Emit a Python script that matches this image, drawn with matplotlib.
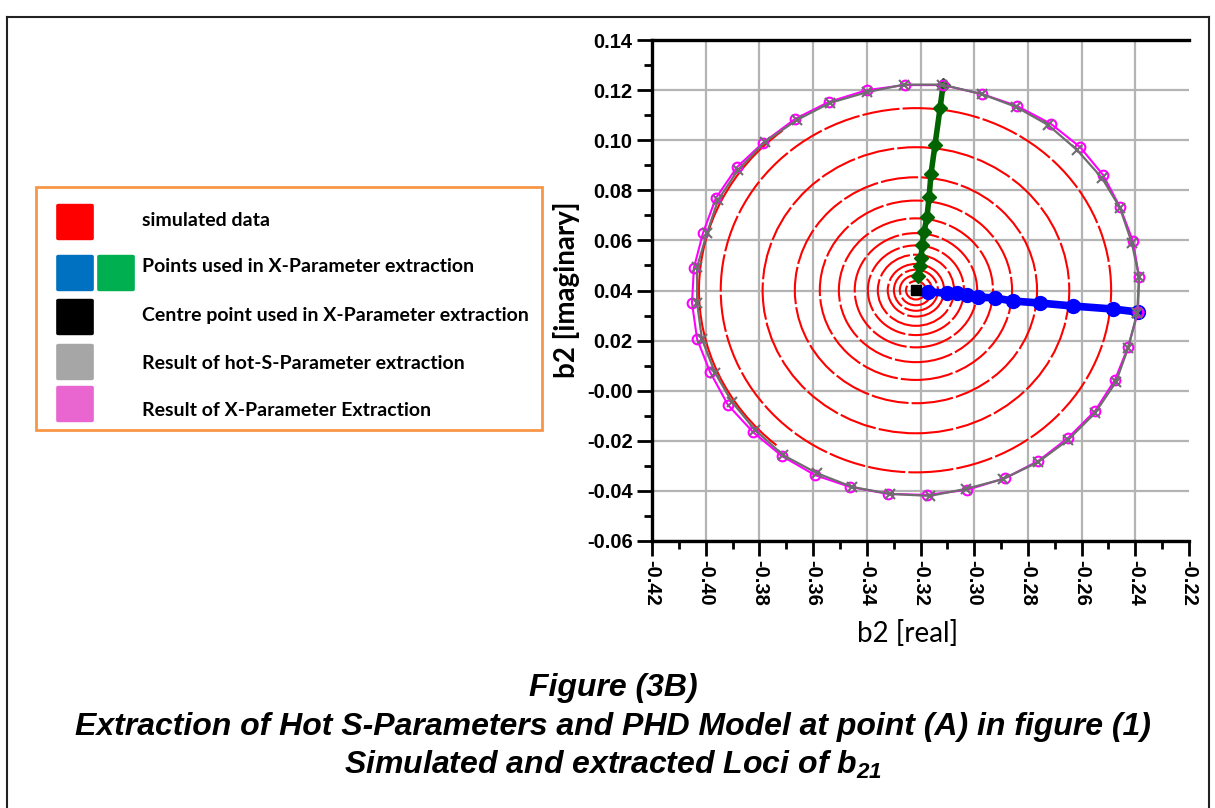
import matplotlib
matplotlib.use("Agg")
import matplotlib.pyplot as plt
from matplotlib.patches import Circle, Arc, FancyBboxPatch, Rectangle
from matplotlib.ticker import FixedLocator, MultipleLocator
from matplotlib.lines import Line2D

plt.rcParams['mathtext.fontset'] = 'custom'
plt.rcParams['mathtext.rm'] = 'Liberation Sans:bold:italic'
plt.rcParams['mathtext.it'] = 'Liberation Sans:bold:italic'
plt.rcParams['mathtext.bf'] = 'Liberation Sans:bold:italic'

# ---------------- data ----------------
centre_x = -0.3217
centre_y = 0.0401

# radii of the simulated (red) loci around the centre point
contour_radii = [0.0037, 0.0060, 0.0082, 0.0105, 0.0142, 0.0179, 0.0228,
                 0.0287, 0.0358, 0.0451, 0.0571, 0.0727]
outer_arc_radius = 0.0808
outer_arc_span = (128, 230)

# blue points used in X-parameter extraction
blue_x = [-0.3172, -0.3101, -0.3064, -0.3027, -0.2986, -0.2922, -0.2856,
          -0.2755, -0.2632, -0.2483, -0.2390]
blue_y = [0.0394, 0.0390, 0.0390, 0.0382, 0.0374, 0.0370, 0.0358,
          0.0350, 0.0338, 0.0326, 0.0314]

# green points used in X-parameter extraction
green_x = [-0.3116, -0.3127, -0.3146, -0.3161, -0.3168, -0.3176, -0.3187,
           -0.3194, -0.3198, -0.3202, -0.3209]
green_y = [0.1220, 0.1129, 0.0981, 0.0865, 0.0773, 0.0693, 0.0633,
           0.0582, 0.0530, 0.0498, 0.0458]

# result of X-parameter extraction (magenta)
xpar_x = [-0.2390, -0.2386, -0.2409, -0.2457, -0.2520, -0.2606, -0.2714,
          -0.2841, -0.2971, -0.3116, -0.3258, -0.3399, -0.3541, -0.3667,
          -0.3787, -0.3883, -0.3962, -0.4010, -0.4044, -0.4051, -0.4032,
          -0.3984, -0.3917, -0.3824, -0.3716, -0.3593, -0.3463, -0.3321,
          -0.3176, -0.3027, -0.2885, -0.2762, -0.2651, -0.2550, -0.2476,
          -0.2427, -0.2390]
xpar_y = [0.0314, 0.0454, 0.0598, 0.0733, 0.0861, 0.0973, 0.1065,
          0.1137, 0.1184, 0.1220, 0.1220, 0.1200, 0.1153, 0.1085,
          0.0989, 0.0893, 0.0769, 0.0630, 0.0490, 0.0350, 0.0206,
          0.0075, -0.0057, -0.0165, -0.0261, -0.0337, -0.0384, -0.0412,
          -0.0416, -0.0396, -0.0349, -0.0281, -0.0189, -0.0081, 0.0043,
          0.0174, 0.0314]

# result of hot-S-parameter extraction (grey)
hots_x = [-0.2393, -0.2386, -0.2413, -0.2457, -0.2524, -0.2617, -0.2725,
          -0.2844, -0.2971, -0.3120, -0.3262, -0.3399, -0.3537, -0.3660,
          -0.3780, -0.3880, -0.3954, -0.3995, -0.4032, -0.4032, -0.4014,
          -0.3965, -0.3902, -0.3816, -0.3712, -0.3586, -0.3455, -0.3314,
          -0.3165, -0.3031, -0.2893, -0.2762, -0.2651, -0.2550, -0.2472,
          -0.2427, -0.2393]
hots_y = [0.0310, 0.0454, 0.0590, 0.0730, 0.0849, 0.0961, 0.1061,
          0.1133, 0.1184, 0.1222, 0.1222, 0.1192, 0.1149, 0.1081,
          0.0993, 0.0881, 0.0761, 0.0630, 0.0494, 0.0350, 0.0206,
          0.0071, -0.0045, -0.0157, -0.0257, -0.0329, -0.0384, -0.0412,
          -0.0420, -0.0392, -0.0353, -0.0285, -0.0197, -0.0089, 0.0035,
          0.0170, 0.0310]

x_ticks = [-0.42, -0.40, -0.38, -0.36, -0.34, -0.32, -0.30, -0.28, -0.26, -0.24, -0.22]
x_tick_labels = ["-0.42", "-0.40", "-0.38", "-0.36", "-0.34", "-0.32",
                 "-0.30", "-0.28", "-0.26", "-0.24", "-0.22"]
y_ticks = [0.14, 0.12, 0.10, 0.08, 0.06, 0.04, 0.02, 0.00, -0.02, -0.04, -0.06]
y_tick_labels = ["0.14", "0.12", "0.10", "0.08", "0.06", "0.04", "0.02",
                 "-0.00", "-0.02", "-0.04", "-0.06"]

legend_labels = ["simulated data",
                 "Points used in X-Parameter extraction",
                 "Centre point used in X-Parameter extraction",
                 "Result of hot-S-Parameter extraction",
                 "Result of X-Parameter Extraction"]
legend_colors = [["#FF0000"], ["#0070C0", "#00B050"], ["#000000"],
                 ["#A6A6A6"], ["#E966D0"]]

title_lines = ["Figure (3B)",
               "Extraction of Hot S-Parameters and PHD Model at point (A) in figure (1)",
               "Simulated and extracted Loci of b$_{21}$"]

# ---------------- figure ----------------
W, H = 1215, 808
fig = plt.figure(figsize=(W / 100, H / 100), dpi=100)
fig.patch.set_facecolor("white")

def fx(px):
    return px / W

def fy(py):
    return 1 - py / H

ax = fig.add_axes([fx(652), fy(541), (1189 - 652) / W, (541 - 40) / H])
ax.set_xlim(-0.42, -0.22)
ax.set_ylim(-0.06, 0.14)

# red simulated loci
for r in contour_radii:
    c = Circle((centre_x, centre_y), r, fill=False, edgecolor="#FF0000",
               lw=1.5, linestyle=(0, (18, 1.5)), zorder=2)
    ax.add_patch(c)
ax.add_patch(Arc((centre_x, centre_y), 2 * outer_arc_radius, 2 * outer_arc_radius,
                 theta1=outer_arc_span[0], theta2=outer_arc_span[1],
                 edgecolor="#FF0000", lw=1.5, zorder=2))

# green and blue extraction points
ax.plot(green_x, green_y, color="#006400", lw=4, marker="D", markersize=7.5,
        zorder=4)
ax.plot(blue_x, blue_y, color="#0000FF", lw=5.5, marker="o", markersize=10,
        zorder=4)
ax.plot([centre_x], [centre_y], color="black", marker="s", markersize=7,
        linestyle="none", zorder=5)

# extraction results
ax.plot(xpar_x, xpar_y, color="#FF00FF", lw=1.5, marker="o", markersize=7,
        markerfacecolor="none", markeredgewidth=1.5, zorder=6)
ax.plot(hots_x, hots_y, color="#6E6E6E", lw=1.6, marker="x", markersize=6.5,
        markeredgewidth=1.5, zorder=7)

# axes styling
ax.xaxis.set_major_locator(FixedLocator(x_ticks))
ax.set_xticklabels(x_tick_labels, rotation=-90, fontsize=14.5,
                   fontweight="bold", family="Liberation Sans")
ax.xaxis.set_minor_locator(MultipleLocator(0.01))
ax.yaxis.set_major_locator(FixedLocator(y_ticks))
ax.set_yticklabels(y_tick_labels, fontsize=14.5, fontweight="bold",
                   family="Liberation Sans")
ax.yaxis.set_minor_locator(MultipleLocator(0.01))

ax.tick_params(axis="both", which="major", direction="out", length=11,
               width=2, color="black", pad=3)
ax.tick_params(axis="both", which="minor", direction="out", length=6,
               width=2, color="black")

for s in ["left", "bottom", "top"]:
    ax.spines[s].set_linewidth(2.4)
    ax.spines[s].set_color("black")
ax.spines["right"].set_visible(False)

ax.grid(True, which="major", color="#B4B4B4", lw=1.6, zorder=0)
ax.set_axisbelow(True)
ax.get_xgridlines()[-1].set_visible(False)

fig.text(fx(566), fy(290), "b2 [imaginary]", rotation=90, ha="center",
         va="center", fontsize=20, fontweight="bold", family="Lato")
fig.text(fx(908), fy(633), "b2 [real]", ha="center", va="center",
         fontsize=20, family="Lato")

# legend box
fig.add_artist(Rectangle((fx(36), fy(430)), (542 - 36) / W, (430 - 187) / H,
                         transform=fig.transFigure, fill=False,
                         edgecolor="#F79646", lw=2))
row_y = [222, 273, 317, 362, 404]
text_y = [220, 267, 315, 363, 410]
for i, (lab, cols) in enumerate(zip(legend_labels, legend_colors)):
    for j, col in enumerate(cols):
        x0 = 57 + j * 41
        sq = FancyBboxPatch((fx(x0 + 1), fy(row_y[i] + 17)), 34 / W, 34 / H,
                            boxstyle="round,pad=0.0015,rounding_size=0.002",
                            transform=fig.transFigure, facecolor=col,
                            edgecolor="none")
        fig.add_artist(sq)
    fig.text(fx(142), fy(text_y[i]), lab, ha="left", va="center",
             fontsize=14, fontweight="bold", family="Lato")

# outer frame
fig.add_artist(Line2D([fx(7), fx(7)], [0, fy(17)], transform=fig.transFigure,
                      color="#222222", lw=1.5))
fig.add_artist(Line2D([fx(7), fx(1209)], [fy(17), fy(17)],
                      transform=fig.transFigure, color="#222222", lw=1.5))
fig.add_artist(Line2D([fx(1209), fx(1209)], [0, fy(17)],
                      transform=fig.transFigure, color="#222222", lw=1.5))

# captions
for ty, t in zip([688, 727, 765], title_lines):
    fig.text(fx(613), fy(ty), t, ha="center", va="center", fontsize=23,
             fontweight="bold", fontstyle="italic", family="Liberation Sans")

fig.savefig("out.png", dpi=100)
